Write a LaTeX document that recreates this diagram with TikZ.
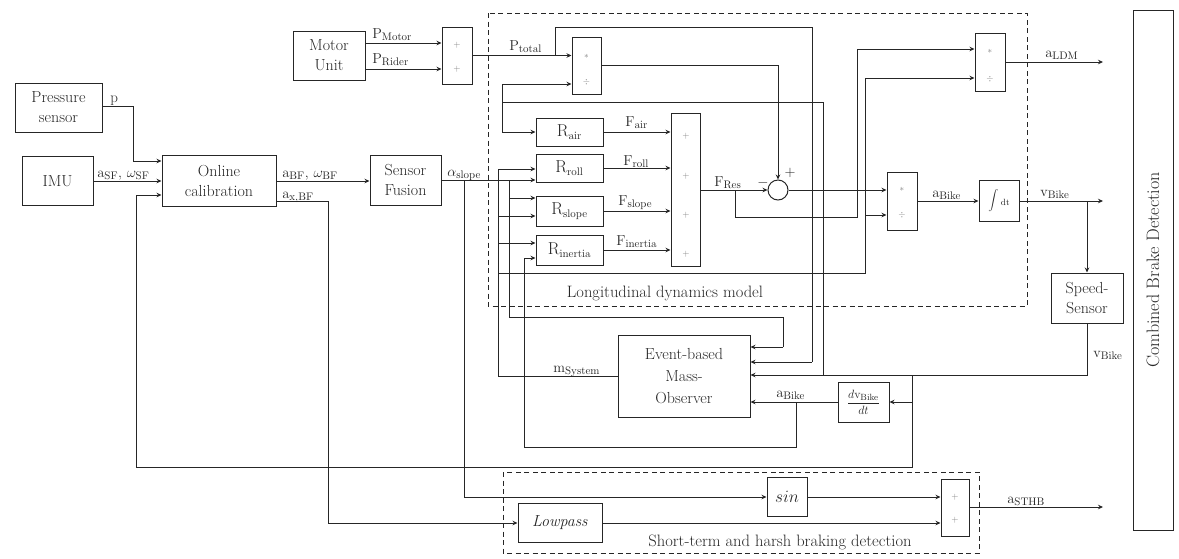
\documentclass[tikz,border=0pt]{standalone}
\usetikzlibrary{arrows.meta}
\newcommand{\msub}[2]{$\mathrm{#1}_{\mathrm{#2}}$}
\begin{document}
\begin{tikzpicture}[x=1pt,y=-1pt,
  line width=0.8pt, draw=black!85,
  blk/.style={draw=black!85, line width=1pt, inner sep=0pt, align=center, text=black!85, font=\fontsize{16}{20}\selectfont},
  arr/.style={-{Stealth[length=5pt,width=4.5pt]}},
  lbl/.style={inner sep=0pt, text=black!85, font=\fontsize{15}{17}\selectfont},
  sgn/.style={inner sep=0pt, text=black!50, font=\fontsize{9}{10}\selectfont},
  grp/.style={draw=black!85, line width=1pt, dash pattern=on 5pt off 3.5pt},
  glbl/.style={inner sep=0pt, text=black!85, font=\fontsize{16.5}{19}\selectfont},
]
\useasboundingbox (0,0) rectangle (1179,558);

% groups
\draw[grp] (488,13) rectangle (1027,306);
\draw[grp] (503,472) rectangle (979,553);
\node[glbl] (ldmlbl) at (665,293) {Longitudinal dynamics model};
\node[glbl] (sthblbl) at (780,542) {Short-term and harsh braking detection};

% blocks
\node[blk, minimum width=87pt, minimum height=49pt] (press) at (58.5,107.5) {Pressure\\sensor};
\node[blk, minimum width=71pt, minimum height=49pt] (imu) at (57.5,181) {IMU};
\node[blk, minimum width=114pt, minimum height=51pt] (oncal) at (219,181) {Online\\calibration};
\node[blk, minimum width=71pt, minimum height=50pt] (sfus) at (405.5,180) {Sensor\\Fusion};
\node[blk, minimum width=72pt, minimum height=49pt] (motor) at (329,55.5) {Motor\\Unit};
\node[blk, minimum width=30pt, minimum height=57pt] (padd) at (457,55.5) {};
\node[blk, minimum width=29pt, minimum height=57pt] (mul1) at (586.5,65.5) {};
\node[blk, minimum width=67pt, minimum height=28pt] (rair) at (569.5,132) {\msub{R}{air}};
\node[blk, minimum width=67pt, minimum height=28pt] (rroll) at (569.5,168) {\msub{R}{roll}};
\node[blk, minimum width=67pt, minimum height=30pt] (rslope) at (569.5,211) {\msub{R}{slope}};
\node[blk, minimum width=67pt, minimum height=30pt] (rinert) at (569.5,250) {\msub{R}{inertia}};
\node[blk, minimum width=29pt, minimum height=153pt] (fsum) at (685.5,189.5) {};
\node[blk, circle, minimum size=20pt] (circ) at (778,190) {};
\node[blk, minimum width=30pt, minimum height=58pt] (mul2) at (902,201) {};
\node[blk, minimum width=40pt, minimum height=41pt] (integ) at (999,201) {$\displaystyle\int$\,{\small dt}};
\node[blk, minimum width=30pt, minimum height=58pt] (mul3) at (990,62) {};
\node[blk, minimum width=72pt, minimum height=50pt] (speed) at (1087,298) {Speed-\\Sensor};
\node[blk, minimum width=40pt, minimum height=520pt] (cbd) at (1153,270) {};
\node[glbl, rotate=90, font=\fontsize{18}{20}\selectfont] (cbdtxt) at (cbd.center) {Combined Brake Detection};
\node[blk, minimum width=132pt, minimum height=82pt, font=\fontsize{16}{22}\selectfont] (mobs) at (684,376) {Event-based\\Mass-\\Observer};
\node[blk, minimum width=51pt, minimum height=40pt, font=\fontsize{13}{15}\selectfont] (ddt) at (863.5,402) {$\displaystyle\frac{d\mathrm{v}_{\mathrm{Bike}}}{dt}$};
\node[blk, minimum width=40pt, minimum height=39pt] (sinb) at (787,497) {$sin$};
\node[blk, minimum width=84pt, minimum height=39pt] (lowp) at (560,523) {\textit{Lowpass}};
\node[blk, minimum width=28pt, minimum height=57pt] (padd2) at (955,508) {};

% signs inside blocks
\node[sgn] (s1) at (457,45) {$+$};
\node[sgn] (s2) at (457,69) {$+$};
\node[sgn] (s3) at (586.5,56) {$\ast$};
\node[sgn] (s4) at (586.5,82) {$\div$};
\node[sgn] (s5) at (686,136) {$+$};
\node[sgn] (s6) at (686,176) {$+$};
\node[sgn] (s7) at (686,215) {$+$};
\node[sgn] (s8) at (686,254) {$+$};
\node[sgn] (s9) at (902,189) {$\ast$};
\node[sgn] (s10) at (902,215) {$\div$};
\node[sgn] (s11) at (990,51) {$\ast$};
\node[sgn] (s12) at (990,79) {$\div$};
\node[sgn] (s13) at (955,497) {$+$};
\node[sgn] (s14) at (955,520) {$+$};
\node[lbl] (cp) at (790,173) {$+$};
\node[lbl] (cm) at (763,183) {$-$};

% junction coordinates
\coordinate (p1) at (133,106); \coordinate (p2) at (133,161);
\coordinate (sp1) at (1087,375);
\coordinate (j912) at (912,375); \coordinate (j912b) at (912,402); \coordinate (j912c) at (912,467);
\coordinate (fb1) at (136,467); \coordinate (fb2) at (136,195);
\coordinate (j823) at (823,375); \coordinate (v1) at (823,102); \coordinate (v2) at (502,102);
\coordinate (v3) at (502,84); \coordinate (v4) at (502,132);
\coordinate (ax1) at (328,201); \coordinate (ax2) at (328,523);
\coordinate (a464) at (464,180); \coordinate (a464b) at (464,497);
\coordinate (a509) at (509,180); \coordinate (a509b) at (509,198); \coordinate (a509c) at (509,317);
\coordinate (a783) at (783,317); \coordinate (a783b) at (783,347);
\coordinate (m1) at (498,376); \coordinate (m2) at (498,169); \coordinate (m3) at (498,216);
\coordinate (m4) at (498,243); \coordinate (m5) at (498,273); \coordinate (m6) at (865,273);
\coordinate (m7) at (865,78); \coordinate (m8) at (865,215);
\coordinate (pm) at (365,43); \coordinate (pr) at (365,69);
\coordinate (t1) at (555,55.5); \coordinate (t2) at (555,27); \coordinate (t3) at (812,27); \coordinate (t4) at (812,362);
\coordinate (f1) at (778,65);
\coordinate (r1) at (735,190); \coordinate (r2) at (735,217); \coordinate (r3) at (857,217); \coordinate (r4) at (857,49);
\coordinate (vb) at (1087,201);
\coordinate (ab1) at (796,402); \coordinate (ab2) at (796,447); \coordinate (ab3) at (524,447); \coordinate (ab4) at (524,258);
\coordinate (oLDM) at (1103,62); \coordinate (oVB) at (1103,201); \coordinate (oST) at (1103,507);

% connectors
\draw[arr] (press.east |- p1) -- (p1) -- (p2) -- (oncal.west |- p2);
\draw[arr] (imu.east) -- (oncal.west |- imu.east);
\draw[arr] (speed.south) -- (sp1) -- (mobs.east |- sp1);
\draw (j912) -- (j912c) -- (fb1) -- (fb2);
\draw[arr] (fb2) -- (oncal.west |- fb2);
\draw[arr] (j912b) -- (ddt.east |- j912b);
\draw (j823) -- (v1) -- (v2) -- (v3);
\draw[arr] (v3) -- (mul1.west |- v3);
\draw (v2) -- (v4);
\draw[arr] (v4) -- (rair.west |- v4);
\draw[arr] (oncal.east) -- (sfus.west |- oncal.east);
\draw[arr] (oncal.east |- ax1) -- (ax1) -- (ax2) -- (lowp.west |- ax2);
\draw[arr] (sfus.east) -- (rroll.west |- sfus.east);
\draw[arr] (a464) -- (a464b) -- (sinb.west |- a464b);
\draw (a509) -- (a509c) -- (a783) -- (a783b);
\draw[arr] (a783b) -- (mobs.east |- a783b);
\draw[arr] (a509b) -- (rslope.west |- a509b);
\draw (mobs.west |- m1) -- (m1) -- (m2);
\draw[arr] (m2) -- (rroll.west |- m2);
\draw[arr] (m3) -- (rslope.west |- m3);
\draw[arr] (m4) -- (rinert.west |- m4);
\draw (m5) -- (m6) -- (m7);
\draw[arr] (m7) -- (mul3.west |- m7);
\draw[arr] (m8) -- (mul2.west |- m8);
\draw[arr] (pm) -- (padd.west |- pm);
\draw[arr] (pr) -- (padd.west |- pr);
\draw[arr] (padd.east) -- (mul1.west |- padd.east);
\draw (t1) -- (t2) -- (t3) -- (t4);
\draw[arr] (t4) -- (mobs.east |- t4);
\draw[arr] (mul1.east |- f1) -- (f1) -- (circ.north);
\draw[arr] (rair.east) -- (fsum.west |- rair.east);
\draw[arr] (rroll.east) -- (fsum.west |- rroll.east);
\draw[arr] (rslope.east) -- (fsum.west |- rslope.east);
\draw[arr] (rinert.east) -- (fsum.west |- rinert.east);
\draw[arr] (fsum.east |- circ.west) -- (circ.west);
\draw (r1) -- (r2) -- (r3) -- (r4);
\draw[arr] (r4) -- (mul3.west |- r4);
\draw[arr] (circ.east) -- (mul2.west |- circ.east);
\draw[arr] (mul2.east) -- (integ.west |- mul2.east);
\draw[arr] (integ.east) -- (oVB);
\draw[arr] (vb) -- (speed.north);
\draw[arr] (mul3.east) -- (oLDM);
\draw[arr] (ddt.west) -- (mobs.east |- ddt.west);
\draw (ab1) -- (ab2) -- (ab3) -- (ab4);
\draw[arr] (ab4) -- (rinert.west |- ab4);
\draw[arr] (sinb.east) -- (padd2.west |- sinb.east);
\draw[arr] (lowp.east) -- (padd2.west |- lowp.east);
\draw[arr] (padd2.east |- oST) -- (oST);

% labels
\node[lbl, anchor=base west] (lp) at (110,102) {p};
\node[lbl, anchor=base west] (limu) at (97,177) {$\mathrm{a}_{\mathrm{SF}},\,\omega_{\mathrm{SF}}$};
\node[lbl, anchor=base west] (lbf) at (282,177) {$\mathrm{a}_{\mathrm{BF}},\,\omega_{\mathrm{BF}}$};
\node[lbl, anchor=base west] (lxbf) at (282,198) {$\mathrm{a}_{\mathrm{x,BF}}$};
\node[lbl, anchor=base west] (lslope) at (447,176) {$\alpha_{\mathrm{slope}}$};
\node[lbl, anchor=base west] (lpm) at (372,38) {\msub{P}{Motor}};
\node[lbl, anchor=base west] (lpr) at (372,63) {\msub{P}{Rider}};
\node[lbl, anchor=base west] (lpt) at (509,50) {\msub{P}{total}};
\node[lbl, anchor=base west] (lfa) at (625,126) {\msub{F}{air}};
\node[lbl, anchor=base west] (lfr) at (623,165) {\msub{F}{roll}};
\node[lbl, anchor=base west] (lfs) at (618,205) {\msub{F}{slope}};
\node[lbl, anchor=base west] (lfi) at (616,245) {\msub{F}{inertia}};
\node[lbl, anchor=base west] (lfres) at (714,186) {\msub{F}{Res}};
\node[lbl, anchor=base west] (lab) at (932,197) {\msub{a}{Bike}};
\node[lbl, anchor=base west] (lvb) at (1040,196) {\msub{v}{Bike}};
\node[lbl, anchor=base west] (lldm) at (1045,57) {\msub{a}{LDM}};
\node[lbl, anchor=base west] (lvb2) at (1093,357) {\msub{v}{Bike}};
\node[lbl, anchor=base west] (lab2) at (776,397) {\msub{a}{Bike}};
\node[lbl, anchor=base west] (lms) at (553,372) {\msub{m}{System}};
\node[lbl, anchor=base west] (lst) at (1007,503) {\msub{a}{STHB}};
\end{tikzpicture}
\end{document}
